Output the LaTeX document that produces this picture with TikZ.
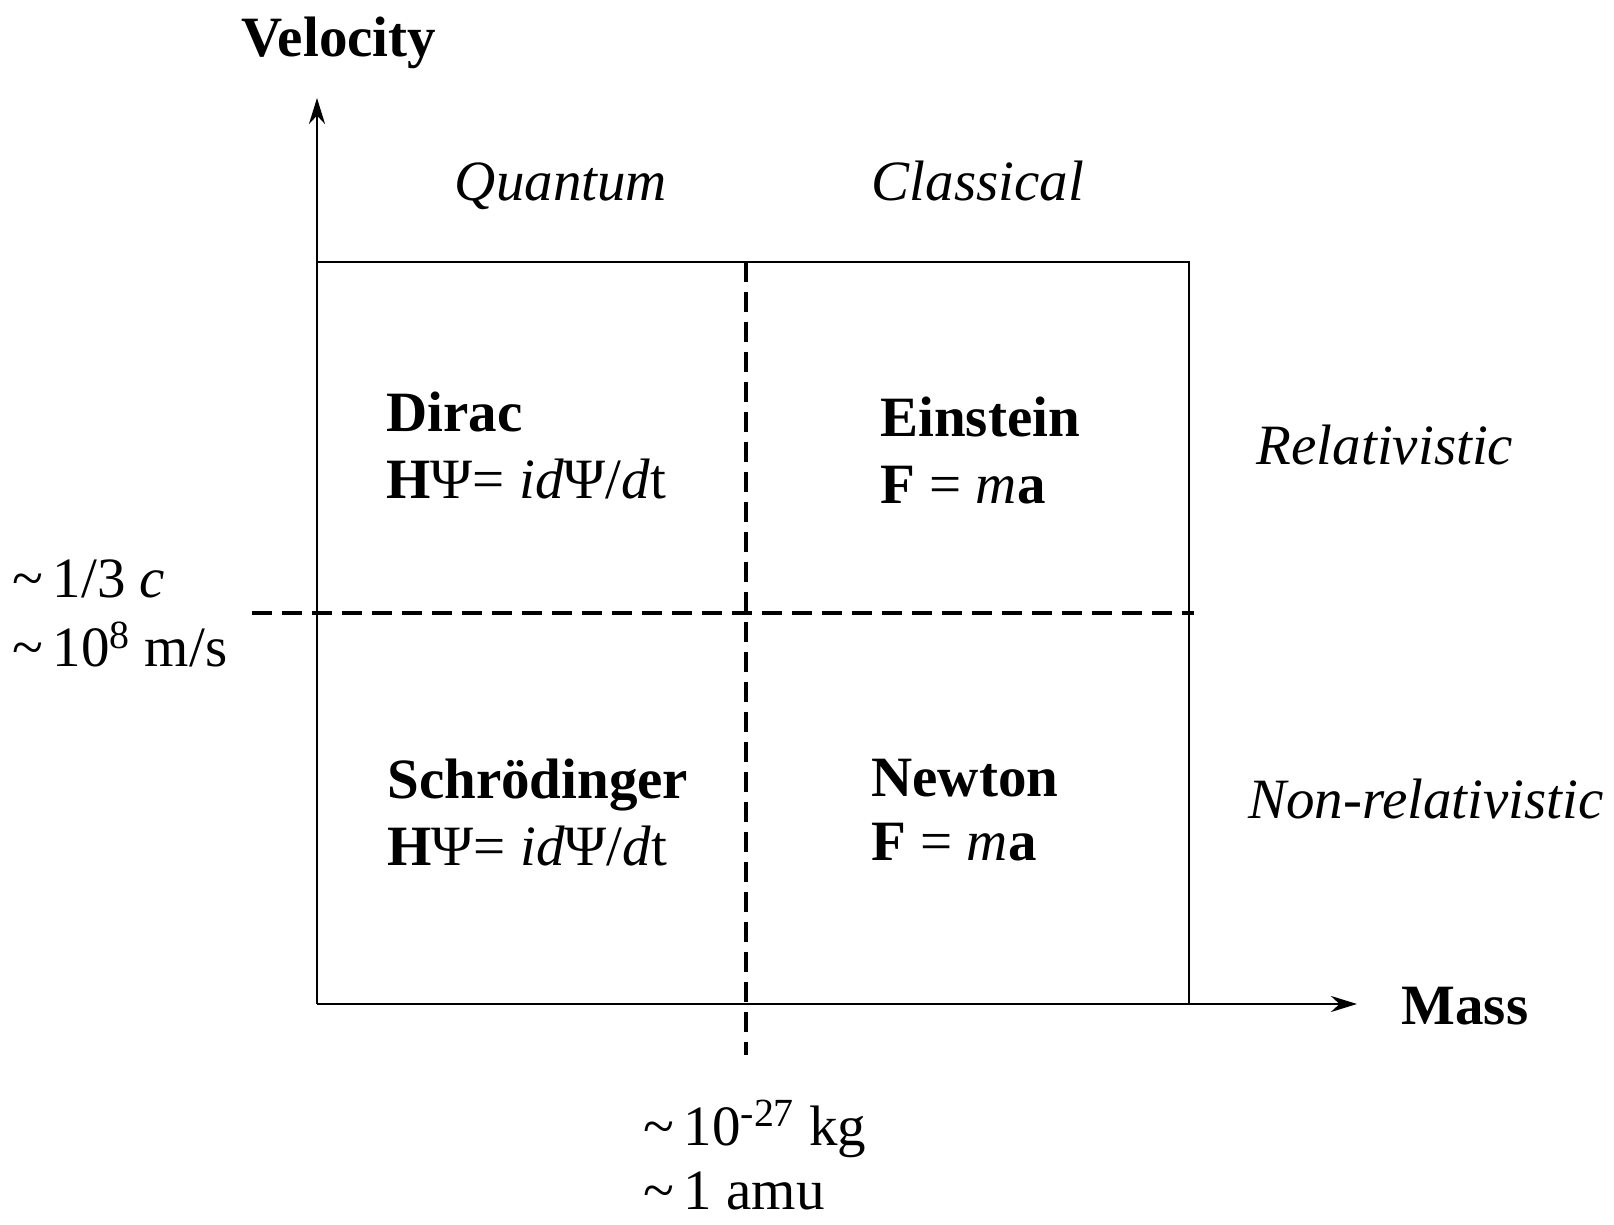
\documentclass[tikz,border=0pt]{standalone}
\usepackage{fontspec}
\setmainfont{Liberation Serif}
\usetikzlibrary{arrows.meta}
\begin{document}
\begin{tikzpicture}[x=0.5pt,y=-0.5pt,
  lbl/.style={inner sep=0pt,font=\fontsize{28.5}{34}\selectfont},
  ax/.style={line width=1.4pt,-{Stealth[length=13pt,width=8pt]}},
  frame/.style={line width=1.4pt},
  dsh/.style={line width=1.6pt,dash pattern=on 10pt off 5pt}]
\useasboundingbox (0,0) rectangle (1614,1225);
% coordinates
\coordinate (O) at (317,1004);
\coordinate (ytip) at (317,98);
\coordinate (xtip) at (1357,1004);
\coordinate (TL) at (317,262);
\coordinate (TR) at (1189,262);
\coordinate (BR) at (1189,1004);
\coordinate (vtop) at (746,262);
\coordinate (vbot) at (746,1055);
\coordinate (hl) at (252,613);
\coordinate (hr) at (1194,613);
% frame and axes
\draw[frame] (TL) -- (TR) -- (BR);
\draw[ax] (O) -- (ytip);
\draw[ax] (O) -- (xtip);
\draw[dsh] (vtop) -- (vbot);
\draw[dsh] (hl) -- (hr);
% axis labels
\node[lbl,anchor=base,font=\fontsize{28.5}{34}\selectfont\bfseries] (vel) at (339,57) {Velocity};
\node[lbl,anchor=base,font=\fontsize{28.5}{34}\selectfont\bfseries] (mass) at (1465,1024) {Mass};
% column / row headings
\node[lbl,anchor=base,font=\fontsize{28.5}{34}\selectfont\itshape] (qu) at (561,201) {Quantum};
\node[lbl,anchor=base,font=\fontsize{28.5}{34}\selectfont\itshape] (cl) at (978,201) {Classical};
\node[lbl,anchor=base,font=\fontsize{28.5}{34}\selectfont\itshape] (rel) at (1385,465) {Relativistic};
\node[lbl,anchor=base,font=\fontsize{28.5}{34}\selectfont\itshape] (nrel) at (1426,818) {Non-relativistic};
% quadrants
\node[lbl,anchor=base west] (dirac) at (386,432) {\textbf{Dirac}};
\node[lbl,anchor=base west] (diraceq) at (386,499) {\textbf{H}Ψ= \textit{id}Ψ/\textit{d}t};
\node[lbl,anchor=base west] (ein) at (880,437) {\textbf{Einstein}};
\node[lbl,anchor=base west] (eineq) at (880,504) {\textbf{F} = \textit{m}\textbf{a}};
\node[lbl,anchor=base west] (sch) at (387,798) {\textbf{Schrödinger}};
\node[lbl,anchor=base west] (scheq) at (387,865) {\textbf{H}Ψ= \textit{id}Ψ/\textit{d}t};
\node[lbl,anchor=base west] (new) at (871,796) {\textbf{Newton}};
\node[lbl,anchor=base west] (neweq) at (871,860) {\textbf{F} = \textit{m}\textbf{a}};
% scale labels
\node[lbl,anchor=base west] (v1) at (12,597) {\textasciitilde\,1/3 \textit{c}};
\node[lbl,anchor=base west] (v2) at (12,667) {\textasciitilde\,10\textsuperscript{8} m/s};
\node[lbl,anchor=base west] (m1) at (643,1145) {\textasciitilde\,10\textsuperscript{-27} kg};
\node[lbl,anchor=base west] (m2) at (643,1209) {\textasciitilde\,1 amu};
\end{tikzpicture}
\end{document}
